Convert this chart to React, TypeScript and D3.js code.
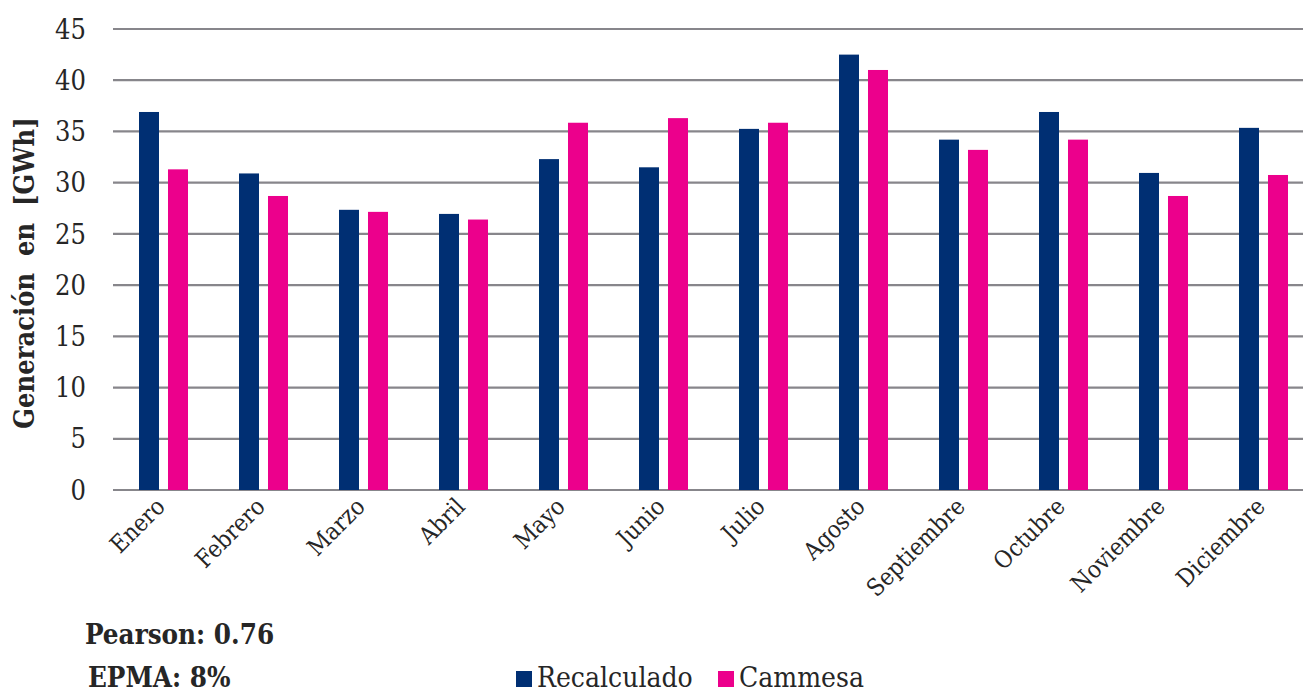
import React from "react";
import * as d3 from "d3";

const months = ["Enero","Febrero","Marzo","Abril","Mayo","Junio","Julio","Agosto","Septiembre","Octubre","Noviembre","Diciembre"];
const recalculado = [36.9, 30.9, 27.35, 26.95, 32.3, 31.5, 35.25, 42.5, 34.2, 36.9, 30.95, 35.35];
const cammesa = [31.3, 28.7, 27.15, 26.4, 35.85, 36.3, 35.85, 41.0, 33.2, 34.2, 28.7, 30.75];
const yTicks = [0, 5, 10, 15, 20, 25, 30, 35, 40, 45];
const seriesNames = ["Recalculado", "Cammesa"];
const colors = ["#002F73", "#EC008C"];

const W = 1303, H = 693;
const FONT = "'DejaVu Serif Condensed', 'DejaVu Serif', serif";

export default function App() {
  const x = d3.scaleBand<string>().domain(months).range([113.5, 1313.5]).paddingInner(0).paddingOuter(0);
  const y = d3.scaleLinear().domain([0, 45]).range([490, 29]);
  const inner = d3.scaleBand<string>().domain(seriesNames).range([25.5, 74.5]).paddingInner(9 / 29).paddingOuter(0);
  const data = [recalculado, cammesa];
  return (
    <svg width={W} height={H} style={{ position: "absolute", left: 0, top: 0, background: "#fff" }} fontFamily={FONT}>
      {yTicks.map((t) => (
        <g key={t}>
          <line x1={113} x2={W} y1={y(t)} y2={y(t)} stroke="#87868b" strokeWidth={2.2} />
          <text x={86} y={y(t)} dy="0.36em" textAnchor="end" fontSize={27} fill="#262626">{t}</text>
        </g>
      ))}
      {months.map((m, i) => (
        <g key={m}>
          {data.map((s, j) => (
            <rect key={j} x={(x(m) as number) + (inner(seriesNames[j]) as number)} width={inner.bandwidth()}
              y={y(s[i])} height={y(0) - y(s[i])} fill={colors[j]} />
          ))}
          <text transform={`translate(${(x(m) as number) + x.bandwidth() / 2 + 3},${508}) rotate(-45)`}
            textAnchor="end" fontSize={24} fill="#262626">{m}</text>
        </g>
      ))}
      <text transform={`translate(34,273) rotate(-90)`} textAnchor="middle" fontSize={27} fontWeight="bold" fill="#262626" style={{ whiteSpace: "pre" }}>
        {"Generación  en  [GWh]"}
      </text>
      <text x={85} y={644} fontSize={27.5} fontWeight="bold" fill="#262626">Pearson: 0.76</text>
      <text x={88} y={687} fontSize={27.5} fontWeight="bold" fill="#262626">EPMA: 8%</text>
      {seriesNames.map((n, j) => {
        const lx = j === 0 ? 516 : 718;
        return (
          <g key={n}>
            <rect x={lx} y={671} width={16} height={16} fill={colors[j]} />
            <text x={lx + 21} y={687} fontSize={28} fill="#262626">{n}</text>
          </g>
        );
      })}
    </svg>
  );
}
